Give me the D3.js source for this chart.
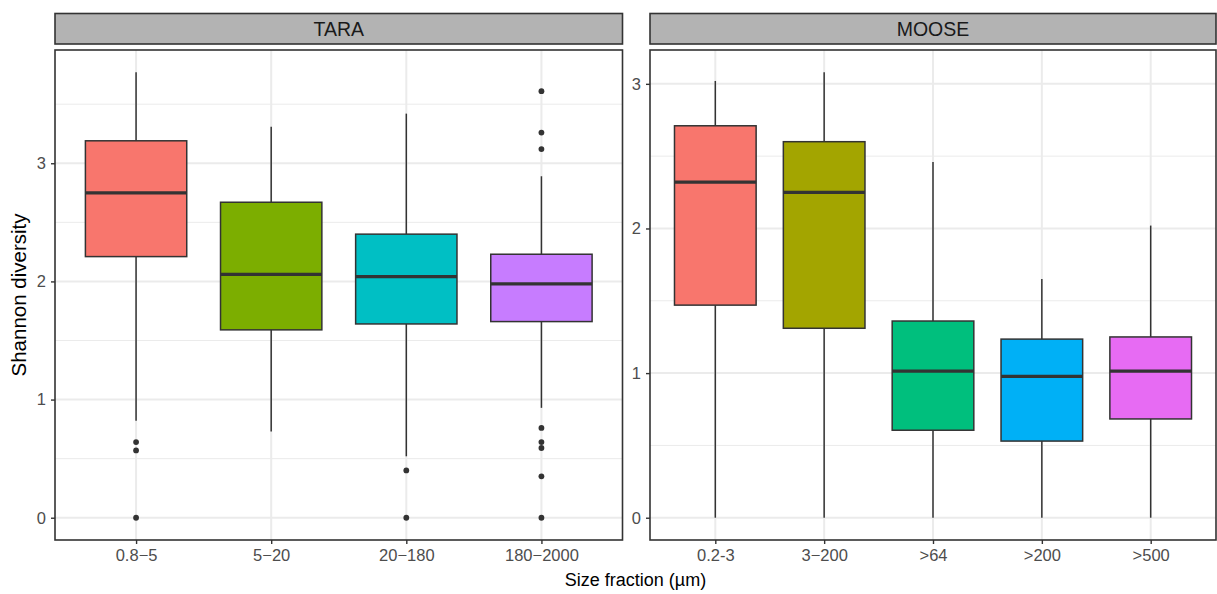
<!DOCTYPE html>
<html>
<head>
<meta charset="utf-8">
<script src="https://cdn.jsdelivr.net/npm/d3@7"></script>
<style>
  body { margin: 0; background: #fff; }
  text { font-family: "Liberation Sans", Arial, sans-serif; }
</style>
</head>
<body>
<div id="chart"></div>
<script>
var width = 1217,
    height = 594;

// TARA panel
var taraCats = ["0.8\u22125", "5\u221220", "20\u2212180", "180\u22122000"];
var taraLow = [0.82, 0.73, 0.52, 0.93];
var taraQ1 = [2.21, 1.59, 1.64, 1.66];
var taraMed = [2.75, 2.06, 2.04, 1.98];
var taraQ3 = [3.19, 2.67, 2.40, 2.23];
var taraHigh = [3.77, 3.31, 3.42, 2.89];
var taraOut = [[0.64, 0.57, 0], [], [0.40, 0], [3.61, 3.26, 3.12, 0.76, 0.64, 0.59, 0.35, 0]];
var taraColors = ["#F8766D", "#7CAE00", "#00BFC4", "#C77CFF"];

// MOOSE panel
var mooseCats = ["0.2-3", "3\u2212200", ">64", ">200", ">500"];
var mooseLow = [0, 0, 0, 0, 0];
var mooseQ1 = [1.47, 1.31, 0.605, 0.53, 0.683];
var mooseMed = [2.32, 2.25, 1.013, 0.978, 1.013];
var mooseQ3 = [2.71, 2.60, 1.36, 1.235, 1.25];
var mooseHigh = [3.02, 3.08, 2.46, 1.65, 2.02];
var mooseOut = [[], [], [], [], []];
var mooseColors = ["#F8766D", "#A3A500", "#00BF7D", "#00B0F6", "#E76BF3"];

var yTicks = [0, 1, 2, 3];

var svg = d3.select("#chart").append("svg")
    .attr("width", width)
    .attr("height", height);

var panelTop = 50, panelBottom = 540;

function drawPanel(name, left, right, cats, lo, q1, med, q3, hi, outs, colors) {
  var rows = cats.map(function(c, i) {
    return {cat: c, lo: lo[i], q1: q1[i], med: med[i], q3: q3[i], hi: hi[i], out: outs[i], color: colors[i]};
  });

  var allVals = d3.merge([lo, hi, d3.merge(outs)]);
  var ymin = d3.min(allVals), ymax = d3.max(allVals);
  var pad = (ymax - ymin) * 0.05;

  var y = d3.scaleLinear()
      .domain([ymin - pad, ymax + pad])
      .range([panelBottom, panelTop]);

  var x = d3.scalePoint()
      .domain(cats)
      .range([left, right])
      .padding(0.6);
  var step = x.step();
  var boxW = step * 0.75;

  var g = svg.append("g");

  // strip
  g.append("rect")
      .attr("x", left).attr("y", 13.5)
      .attr("width", right - left).attr("height", 30.5)
      .attr("fill", "#B3B3B3")
      .attr("stroke", "#333333")
      .attr("stroke-width", 1.6);
  g.append("text")
      .attr("x", (left + right) / 2).attr("y", 35.5)
      .attr("text-anchor", "middle")
      .attr("font-size", 19.5)
      .attr("fill", "#1A1A1A")
      .text(name);

  // minor grid
  var minor = d3.range(-0.5, ymax + pad, 1).filter(function(v) { return v > ymin - pad && v < ymax + pad; });
  g.selectAll(".minor").data(minor).enter().append("line")
      .attr("x1", left).attr("x2", right)
      .attr("y1", function(d) { return y(d); })
      .attr("y2", function(d) { return y(d); })
      .attr("stroke", "#EBEBEB").attr("stroke-width", 1);

  // major grid
  g.selectAll(".major").data(yTicks.filter(function(v) { return v < ymax + pad; })).enter().append("line")
      .attr("x1", left).attr("x2", right)
      .attr("y1", function(d) { return y(d); })
      .attr("y2", function(d) { return y(d); })
      .attr("stroke", "#EBEBEB").attr("stroke-width", 2);
  g.selectAll(".vgrid").data(cats).enter().append("line")
      .attr("x1", function(d) { return x(d); })
      .attr("x2", function(d) { return x(d); })
      .attr("y1", panelTop).attr("y2", panelBottom)
      .attr("stroke", "#EBEBEB").attr("stroke-width", 2);

  // whiskers
  var b = g.selectAll(".box").data(rows).enter().append("g");
  b.append("line")
      .attr("x1", function(d) { return x(d.cat); })
      .attr("x2", function(d) { return x(d.cat); })
      .attr("y1", function(d) { return y(d.hi); })
      .attr("y2", function(d) { return y(d.q3); })
      .attr("stroke", "#333333").attr("stroke-width", 1.5);
  b.append("line")
      .attr("x1", function(d) { return x(d.cat); })
      .attr("x2", function(d) { return x(d.cat); })
      .attr("y1", function(d) { return y(d.q1); })
      .attr("y2", function(d) { return y(d.lo); })
      .attr("stroke", "#333333").attr("stroke-width", 1.5);
  b.append("rect")
      .attr("x", function(d) { return x(d.cat) - boxW / 2; })
      .attr("width", boxW)
      .attr("y", function(d) { return y(d.q3); })
      .attr("height", function(d) { return y(d.q1) - y(d.q3); })
      .attr("fill", function(d) { return d.color; })
      .attr("stroke", "#333333").attr("stroke-width", 1.5);
  b.append("line")
      .attr("x1", function(d) { return x(d.cat) - boxW / 2; })
      .attr("x2", function(d) { return x(d.cat) + boxW / 2; })
      .attr("y1", function(d) { return y(d.med); })
      .attr("y2", function(d) { return y(d.med); })
      .attr("stroke", "#333333").attr("stroke-width", 3.2);
  b.selectAll("circle").data(function(d) { return d.out.map(function(v) { return {cat: d.cat, v: v}; }); })
    .enter().append("circle")
      .attr("cx", function(d) { return x(d.cat); })
      .attr("cy", function(d) { return y(d.v); })
      .attr("r", 2.9)
      .attr("fill", "#333333");

  // panel border
  g.append("rect")
      .attr("x", left).attr("y", panelTop)
      .attr("width", right - left).attr("height", panelBottom - panelTop)
      .attr("fill", "none")
      .attr("stroke", "#333333").attr("stroke-width", 1.6);

  // axes
  var yAxis = g.append("g")
      .attr("transform", "translate(" + left + ",0)")
      .call(d3.axisLeft(y).tickValues(yTicks.filter(function(v) { return v < ymax + pad; }))
        .tickSize(4).tickPadding(5).tickFormat(d3.format("d")));
  var xAxis = g.append("g")
      .attr("transform", "translate(0," + panelBottom + ")")
      .call(d3.axisBottom(x).tickSize(4).tickPadding(5));
  [yAxis, xAxis].forEach(function(a) {
    a.select(".domain").remove();
    a.selectAll(".tick line").attr("stroke", "#333333").attr("stroke-width", 1.4);
    a.selectAll(".tick text").attr("fill", "#4D4D4D").attr("font-size", 16.5)
      .attr("font-family", "Liberation Sans, Arial, sans-serif");
  });
}

drawPanel("TARA", 55, 622.5, taraCats, taraLow, taraQ1, taraMed, taraQ3, taraHigh, taraOut, taraColors);
drawPanel("MOOSE", 650, 1216, mooseCats, mooseLow, mooseQ1, mooseMed, mooseQ3, mooseHigh, mooseOut, mooseColors);

// axis titles
svg.append("text")
    .attr("x", (55 + 1216) / 2).attr("y", 586)
    .attr("text-anchor", "middle")
    .attr("font-size", 18)
    .attr("fill", "#000")
    .text("Size fraction (\u00b5m)");
svg.append("text")
    .attr("transform", "translate(25.5," + (panelTop + panelBottom) / 2 + ") rotate(-90)")
    .attr("text-anchor", "middle")
    .attr("font-size", 20.5)
    .attr("fill", "#000")
    .text("Shannon diversity");
</script>
</body>
</html>
